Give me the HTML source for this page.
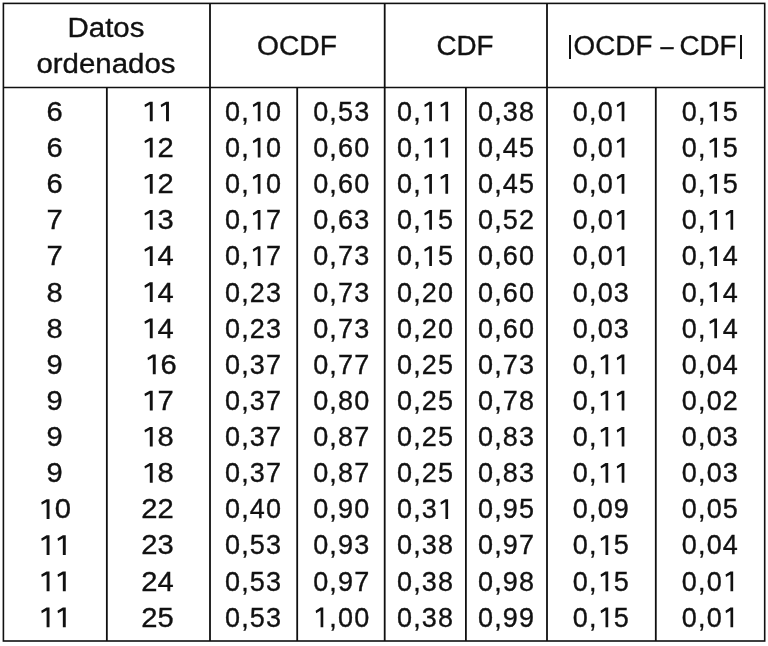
<!DOCTYPE html><html><head><meta charset="utf-8"><style>
html,body{margin:0;padding:0;background:#fff;}
body{width:768px;height:646px;position:relative;overflow:hidden;font-family:"Liberation Sans",sans-serif;color:#111;}
.o{color:transparent;-webkit-text-stroke:0 transparent;margin-left:var(--ml,0px);margin-right:var(--mr,0px);}
.t{font-kerning:none}
.t,.h{will-change:transform;-webkit-text-stroke:0.35px #111;}
.t{position:absolute;white-space:nowrap;text-align:center;font-size:27px;line-height:36px;letter-spacing:0px;height:36px;transform:scaleX(1.08);transform-origin:50% 50%;}
.h{position:absolute;white-space:nowrap;text-align:center;font-size:27px;letter-spacing:0px;transform-origin:50% 50%;}

</style></head><body>
<svg width="0" height="0" style="position:absolute"><defs><path id="g1" d="M265 -730H365V0H265V-622L100 -524L82 -615Z"/></defs></svg>
<svg width="768" height="646" viewBox="0 0 768 646" style="position:absolute;left:0;top:0" fill="none" stroke="#101010"><rect x="3.4" y="3.4" width="761.30" height="637.60" stroke-width="1.6"/><path d="M3.4 87.55H764.7" stroke-width="1.5"/><path d="M106.85 87.55V641.0M210.0 3.4V641.0M297.2 87.55V641.0M384.7 3.4V641.0M465.9 87.55V641.0M547.0 3.4V641.0M655.8 87.55V641.0" stroke-width="1.8"/></svg>
<div class="h" style="left:-43.70px;width:300px;top:10.6px;line-height:35.6px;transform:scaleX(1.09);letter-spacing:0px">Datos</div>
<div class="h" style="left:-43.80px;width:300px;top:46.5px;line-height:35.6px;transform:scaleX(1.09);letter-spacing:0px">ordenados</div>
<div class="h" style="left:147.00px;width:300px;top:28.3px;line-height:36px;transform:scaleX(1.046);letter-spacing:0px">OCDF</div>
<div class="h" style="left:315.10px;width:300px;top:28.3px;line-height:36px;transform:scaleX(1.03);letter-spacing:0px">CDF</div>
<div style="position:absolute;left:568.90px;top:35.3px;width:2.2px;height:24.40px;background:#111;will-change:transform"></div>
<div class="h" style="left:463.30px;width:300px;top:28.3px;line-height:36px;transform:scaleX(1.03);letter-spacing:0px">OCDF</div>
<div class="h" style="left:516.90px;width:300px;top:28.0px;line-height:36px;transform:scaleX(0.88);letter-spacing:0px">–</div>
<div class="h" style="left:557.60px;width:300px;top:28.3px;line-height:36px;transform:scaleX(1.03);letter-spacing:0px">CDF</div>
<div style="position:absolute;left:739.60px;top:35.3px;width:2.2px;height:24.40px;background:#111;will-change:transform"></div>
<div class="t r0 c0" style="left:3.40px;width:103.45px;top:93.80px;transform:scaleX(1.08);letter-spacing:0px;--ml:0px;--mr:0.00px">6</div>
<div class="t r0 c1" style="left:106.05px;width:103.15px;top:93.80px;transform:scaleX(1.08);letter-spacing:0px;--ml:0.65px;--mr:-0.65px"><span class="o">1</span><span class="o">1</span></div>
<div class="t r0 c2" style="left:210.27px;width:87.20px;top:93.80px;transform:scaleX(1.0);letter-spacing:1.15px;--ml:0.5px;--mr:-0.50px">0,<span class="o">1</span>0</div>
<div class="t r0 c3" style="left:297.77px;width:87.50px;top:93.80px;transform:scaleX(1.0);letter-spacing:1.15px;--ml:0.5px;--mr:-0.50px">0,53</div>
<div class="t r0 c4" style="left:385.12px;width:81.20px;top:93.80px;transform:scaleX(1.0);letter-spacing:1.15px;--ml:0.15px;--mr:-0.15px">0,<span class="o">1</span><span class="o">1</span></div>
<div class="t r0 c5" style="left:466.12px;width:81.10px;top:93.80px;transform:scaleX(1.0);letter-spacing:1.15px;--ml:0.5px;--mr:-0.50px">0,38</div>
<div class="t r0 c6" style="left:547.23px;width:108.80px;top:93.80px;transform:scaleX(1.0);letter-spacing:1.15px;--ml:0.5px;--mr:-0.50px">0,0<span class="o">1</span></div>
<div class="t r0 c7" style="left:655.98px;width:108.90px;top:93.80px;transform:scaleX(1.0);letter-spacing:1.15px;--ml:0.5px;--mr:-0.50px">0,<span class="o">1</span>5</div>
<div class="t r1 c0" style="left:3.40px;width:103.45px;top:129.94px;transform:scaleX(1.08);letter-spacing:0px;--ml:0px;--mr:0.00px">6</div>
<div class="t r1 c1" style="left:106.05px;width:103.15px;top:129.94px;transform:scaleX(1.08);letter-spacing:0px;--ml:0.65px;--mr:-0.65px"><span class="o">1</span>2</div>
<div class="t r1 c2" style="left:210.27px;width:87.20px;top:129.94px;transform:scaleX(1.0);letter-spacing:1.15px;--ml:0.5px;--mr:-0.50px">0,<span class="o">1</span>0</div>
<div class="t r1 c3" style="left:297.77px;width:87.50px;top:129.94px;transform:scaleX(1.0);letter-spacing:1.15px;--ml:0.5px;--mr:-0.50px">0,60</div>
<div class="t r1 c4" style="left:385.12px;width:81.20px;top:129.94px;transform:scaleX(1.0);letter-spacing:1.15px;--ml:0.15px;--mr:-0.15px">0,<span class="o">1</span><span class="o">1</span></div>
<div class="t r1 c5" style="left:466.12px;width:81.10px;top:129.94px;transform:scaleX(1.0);letter-spacing:1.15px;--ml:0.5px;--mr:-0.50px">0,45</div>
<div class="t r1 c6" style="left:547.23px;width:108.80px;top:129.94px;transform:scaleX(1.0);letter-spacing:1.15px;--ml:0.5px;--mr:-0.50px">0,0<span class="o">1</span></div>
<div class="t r1 c7" style="left:655.98px;width:108.90px;top:129.94px;transform:scaleX(1.0);letter-spacing:1.15px;--ml:0.5px;--mr:-0.50px">0,<span class="o">1</span>5</div>
<div class="t r2 c0" style="left:3.40px;width:103.45px;top:166.08px;transform:scaleX(1.08);letter-spacing:0px;--ml:0px;--mr:0.00px">6</div>
<div class="t r2 c1" style="left:106.05px;width:103.15px;top:166.08px;transform:scaleX(1.08);letter-spacing:0px;--ml:0.65px;--mr:-0.65px"><span class="o">1</span>2</div>
<div class="t r2 c2" style="left:210.27px;width:87.20px;top:166.08px;transform:scaleX(1.0);letter-spacing:1.15px;--ml:0.5px;--mr:-0.50px">0,<span class="o">1</span>0</div>
<div class="t r2 c3" style="left:297.77px;width:87.50px;top:166.08px;transform:scaleX(1.0);letter-spacing:1.15px;--ml:0.5px;--mr:-0.50px">0,60</div>
<div class="t r2 c4" style="left:385.12px;width:81.20px;top:166.08px;transform:scaleX(1.0);letter-spacing:1.15px;--ml:0.15px;--mr:-0.15px">0,<span class="o">1</span><span class="o">1</span></div>
<div class="t r2 c5" style="left:466.12px;width:81.10px;top:166.08px;transform:scaleX(1.0);letter-spacing:1.15px;--ml:0.5px;--mr:-0.50px">0,45</div>
<div class="t r2 c6" style="left:547.23px;width:108.80px;top:166.08px;transform:scaleX(1.0);letter-spacing:1.15px;--ml:0.5px;--mr:-0.50px">0,0<span class="o">1</span></div>
<div class="t r2 c7" style="left:655.98px;width:108.90px;top:166.08px;transform:scaleX(1.0);letter-spacing:1.15px;--ml:0.5px;--mr:-0.50px">0,<span class="o">1</span>5</div>
<div class="t r3 c0" style="left:3.40px;width:103.45px;top:202.22px;transform:scaleX(1.08);letter-spacing:0px;--ml:0px;--mr:0.00px">7</div>
<div class="t r3 c1" style="left:106.05px;width:103.15px;top:202.22px;transform:scaleX(1.08);letter-spacing:0px;--ml:0.65px;--mr:-0.65px"><span class="o">1</span>3</div>
<div class="t r3 c2" style="left:210.27px;width:87.20px;top:202.22px;transform:scaleX(1.0);letter-spacing:1.15px;--ml:0.5px;--mr:-0.50px">0,<span class="o">1</span>7</div>
<div class="t r3 c3" style="left:297.77px;width:87.50px;top:202.22px;transform:scaleX(1.0);letter-spacing:1.15px;--ml:0.5px;--mr:-0.50px">0,63</div>
<div class="t r3 c4" style="left:385.12px;width:81.20px;top:202.22px;transform:scaleX(1.0);letter-spacing:1.15px;--ml:0.15px;--mr:-0.15px">0,<span class="o">1</span>5</div>
<div class="t r3 c5" style="left:466.12px;width:81.10px;top:202.22px;transform:scaleX(1.0);letter-spacing:1.15px;--ml:0.5px;--mr:-0.50px">0,52</div>
<div class="t r3 c6" style="left:547.23px;width:108.80px;top:202.22px;transform:scaleX(1.0);letter-spacing:1.15px;--ml:0.5px;--mr:-0.50px">0,0<span class="o">1</span></div>
<div class="t r3 c7" style="left:655.98px;width:108.90px;top:202.22px;transform:scaleX(1.0);letter-spacing:1.15px;--ml:0.5px;--mr:-0.50px">0,<span class="o">1</span><span class="o">1</span></div>
<div class="t r4 c0" style="left:3.40px;width:103.45px;top:238.36px;transform:scaleX(1.08);letter-spacing:0px;--ml:0px;--mr:0.00px">7</div>
<div class="t r4 c1" style="left:106.05px;width:103.15px;top:238.36px;transform:scaleX(1.08);letter-spacing:0px;--ml:0.65px;--mr:-0.65px"><span class="o">1</span>4</div>
<div class="t r4 c2" style="left:210.27px;width:87.20px;top:238.36px;transform:scaleX(1.0);letter-spacing:1.15px;--ml:0.5px;--mr:-0.50px">0,<span class="o">1</span>7</div>
<div class="t r4 c3" style="left:297.77px;width:87.50px;top:238.36px;transform:scaleX(1.0);letter-spacing:1.15px;--ml:0.5px;--mr:-0.50px">0,73</div>
<div class="t r4 c4" style="left:385.12px;width:81.20px;top:238.36px;transform:scaleX(1.0);letter-spacing:1.15px;--ml:0.15px;--mr:-0.15px">0,<span class="o">1</span>5</div>
<div class="t r4 c5" style="left:466.12px;width:81.10px;top:238.36px;transform:scaleX(1.0);letter-spacing:1.15px;--ml:0.5px;--mr:-0.50px">0,60</div>
<div class="t r4 c6" style="left:547.23px;width:108.80px;top:238.36px;transform:scaleX(1.0);letter-spacing:1.15px;--ml:0.5px;--mr:-0.50px">0,0<span class="o">1</span></div>
<div class="t r4 c7" style="left:655.98px;width:108.90px;top:238.36px;transform:scaleX(1.0);letter-spacing:1.15px;--ml:0.5px;--mr:-0.50px">0,<span class="o">1</span>4</div>
<div class="t r5 c0" style="left:3.40px;width:103.45px;top:274.50px;transform:scaleX(1.08);letter-spacing:0px;--ml:0px;--mr:0.00px">8</div>
<div class="t r5 c1" style="left:106.05px;width:103.15px;top:274.50px;transform:scaleX(1.08);letter-spacing:0px;--ml:0.65px;--mr:-0.65px"><span class="o">1</span>4</div>
<div class="t r5 c2" style="left:210.27px;width:87.20px;top:274.50px;transform:scaleX(1.0);letter-spacing:1.15px;--ml:0.5px;--mr:-0.50px">0,23</div>
<div class="t r5 c3" style="left:297.77px;width:87.50px;top:274.50px;transform:scaleX(1.0);letter-spacing:1.15px;--ml:0.5px;--mr:-0.50px">0,73</div>
<div class="t r5 c4" style="left:385.12px;width:81.20px;top:274.50px;transform:scaleX(1.0);letter-spacing:1.15px;--ml:0.15px;--mr:-0.15px">0,20</div>
<div class="t r5 c5" style="left:466.12px;width:81.10px;top:274.50px;transform:scaleX(1.0);letter-spacing:1.15px;--ml:0.5px;--mr:-0.50px">0,60</div>
<div class="t r5 c6" style="left:547.23px;width:108.80px;top:274.50px;transform:scaleX(1.0);letter-spacing:1.15px;--ml:0.5px;--mr:-0.50px">0,03</div>
<div class="t r5 c7" style="left:655.98px;width:108.90px;top:274.50px;transform:scaleX(1.0);letter-spacing:1.15px;--ml:0.5px;--mr:-0.50px">0,<span class="o">1</span>4</div>
<div class="t r6 c0" style="left:3.40px;width:103.45px;top:310.64px;transform:scaleX(1.08);letter-spacing:0px;--ml:0px;--mr:0.00px">8</div>
<div class="t r6 c1" style="left:106.05px;width:103.15px;top:310.64px;transform:scaleX(1.08);letter-spacing:0px;--ml:0.65px;--mr:-0.65px"><span class="o">1</span>4</div>
<div class="t r6 c2" style="left:210.27px;width:87.20px;top:310.64px;transform:scaleX(1.0);letter-spacing:1.15px;--ml:0.5px;--mr:-0.50px">0,23</div>
<div class="t r6 c3" style="left:297.77px;width:87.50px;top:310.64px;transform:scaleX(1.0);letter-spacing:1.15px;--ml:0.5px;--mr:-0.50px">0,73</div>
<div class="t r6 c4" style="left:385.12px;width:81.20px;top:310.64px;transform:scaleX(1.0);letter-spacing:1.15px;--ml:0.15px;--mr:-0.15px">0,20</div>
<div class="t r6 c5" style="left:466.12px;width:81.10px;top:310.64px;transform:scaleX(1.0);letter-spacing:1.15px;--ml:0.5px;--mr:-0.50px">0,60</div>
<div class="t r6 c6" style="left:547.23px;width:108.80px;top:310.64px;transform:scaleX(1.0);letter-spacing:1.15px;--ml:0.5px;--mr:-0.50px">0,03</div>
<div class="t r6 c7" style="left:655.98px;width:108.90px;top:310.64px;transform:scaleX(1.0);letter-spacing:1.15px;--ml:0.5px;--mr:-0.50px">0,<span class="o">1</span>4</div>
<div class="t r7 c0" style="left:3.40px;width:103.45px;top:346.78px;transform:scaleX(1.08);letter-spacing:0px;--ml:0px;--mr:0.00px">9</div>
<div class="t r7 c1" style="left:109.05px;width:103.15px;top:346.78px;transform:scaleX(1.08);letter-spacing:0px;--ml:0.65px;--mr:-0.65px"><span class="o">1</span>6</div>
<div class="t r7 c2" style="left:210.27px;width:87.20px;top:346.78px;transform:scaleX(1.0);letter-spacing:1.15px;--ml:0.5px;--mr:-0.50px">0,37</div>
<div class="t r7 c3" style="left:297.77px;width:87.50px;top:346.78px;transform:scaleX(1.0);letter-spacing:1.15px;--ml:0.5px;--mr:-0.50px">0,77</div>
<div class="t r7 c4" style="left:385.12px;width:81.20px;top:346.78px;transform:scaleX(1.0);letter-spacing:1.15px;--ml:0.15px;--mr:-0.15px">0,25</div>
<div class="t r7 c5" style="left:466.12px;width:81.10px;top:346.78px;transform:scaleX(1.0);letter-spacing:1.15px;--ml:0.5px;--mr:-0.50px">0,73</div>
<div class="t r7 c6" style="left:547.23px;width:108.80px;top:346.78px;transform:scaleX(1.0);letter-spacing:1.15px;--ml:0.5px;--mr:-0.50px">0,<span class="o">1</span><span class="o">1</span></div>
<div class="t r7 c7" style="left:655.98px;width:108.90px;top:346.78px;transform:scaleX(1.0);letter-spacing:1.15px;--ml:0.5px;--mr:-0.50px">0,04</div>
<div class="t r8 c0" style="left:3.40px;width:103.45px;top:382.92px;transform:scaleX(1.08);letter-spacing:0px;--ml:0px;--mr:0.00px">9</div>
<div class="t r8 c1" style="left:106.05px;width:103.15px;top:382.92px;transform:scaleX(1.08);letter-spacing:0px;--ml:0.65px;--mr:-0.65px"><span class="o">1</span>7</div>
<div class="t r8 c2" style="left:210.27px;width:87.20px;top:382.92px;transform:scaleX(1.0);letter-spacing:1.15px;--ml:0.5px;--mr:-0.50px">0,37</div>
<div class="t r8 c3" style="left:297.77px;width:87.50px;top:382.92px;transform:scaleX(1.0);letter-spacing:1.15px;--ml:0.5px;--mr:-0.50px">0,80</div>
<div class="t r8 c4" style="left:385.12px;width:81.20px;top:382.92px;transform:scaleX(1.0);letter-spacing:1.15px;--ml:0.15px;--mr:-0.15px">0,25</div>
<div class="t r8 c5" style="left:466.12px;width:81.10px;top:382.92px;transform:scaleX(1.0);letter-spacing:1.15px;--ml:0.5px;--mr:-0.50px">0,78</div>
<div class="t r8 c6" style="left:547.23px;width:108.80px;top:382.92px;transform:scaleX(1.0);letter-spacing:1.15px;--ml:0.5px;--mr:-0.50px">0,<span class="o">1</span><span class="o">1</span></div>
<div class="t r8 c7" style="left:655.98px;width:108.90px;top:382.92px;transform:scaleX(1.0);letter-spacing:1.15px;--ml:0.5px;--mr:-0.50px">0,02</div>
<div class="t r9 c0" style="left:3.40px;width:103.45px;top:419.06px;transform:scaleX(1.08);letter-spacing:0px;--ml:0px;--mr:0.00px">9</div>
<div class="t r9 c1" style="left:106.05px;width:103.15px;top:419.06px;transform:scaleX(1.08);letter-spacing:0px;--ml:0.65px;--mr:-0.65px"><span class="o">1</span>8</div>
<div class="t r9 c2" style="left:210.27px;width:87.20px;top:419.06px;transform:scaleX(1.0);letter-spacing:1.15px;--ml:0.5px;--mr:-0.50px">0,37</div>
<div class="t r9 c3" style="left:297.77px;width:87.50px;top:419.06px;transform:scaleX(1.0);letter-spacing:1.15px;--ml:0.5px;--mr:-0.50px">0,87</div>
<div class="t r9 c4" style="left:385.12px;width:81.20px;top:419.06px;transform:scaleX(1.0);letter-spacing:1.15px;--ml:0.15px;--mr:-0.15px">0,25</div>
<div class="t r9 c5" style="left:466.12px;width:81.10px;top:419.06px;transform:scaleX(1.0);letter-spacing:1.15px;--ml:0.5px;--mr:-0.50px">0,83</div>
<div class="t r9 c6" style="left:547.23px;width:108.80px;top:419.06px;transform:scaleX(1.0);letter-spacing:1.15px;--ml:0.5px;--mr:-0.50px">0,<span class="o">1</span><span class="o">1</span></div>
<div class="t r9 c7" style="left:655.98px;width:108.90px;top:419.06px;transform:scaleX(1.0);letter-spacing:1.15px;--ml:0.5px;--mr:-0.50px">0,03</div>
<div class="t r10 c0" style="left:3.40px;width:103.45px;top:455.20px;transform:scaleX(1.08);letter-spacing:0px;--ml:0px;--mr:0.00px">9</div>
<div class="t r10 c1" style="left:106.05px;width:103.15px;top:455.20px;transform:scaleX(1.08);letter-spacing:0px;--ml:0.65px;--mr:-0.65px"><span class="o">1</span>8</div>
<div class="t r10 c2" style="left:210.27px;width:87.20px;top:455.20px;transform:scaleX(1.0);letter-spacing:1.15px;--ml:0.5px;--mr:-0.50px">0,37</div>
<div class="t r10 c3" style="left:297.77px;width:87.50px;top:455.20px;transform:scaleX(1.0);letter-spacing:1.15px;--ml:0.5px;--mr:-0.50px">0,87</div>
<div class="t r10 c4" style="left:385.12px;width:81.20px;top:455.20px;transform:scaleX(1.0);letter-spacing:1.15px;--ml:0.15px;--mr:-0.15px">0,25</div>
<div class="t r10 c5" style="left:466.12px;width:81.10px;top:455.20px;transform:scaleX(1.0);letter-spacing:1.15px;--ml:0.5px;--mr:-0.50px">0,83</div>
<div class="t r10 c6" style="left:547.23px;width:108.80px;top:455.20px;transform:scaleX(1.0);letter-spacing:1.15px;--ml:0.5px;--mr:-0.50px">0,<span class="o">1</span><span class="o">1</span></div>
<div class="t r10 c7" style="left:655.98px;width:108.90px;top:455.20px;transform:scaleX(1.0);letter-spacing:1.15px;--ml:0.5px;--mr:-0.50px">0,03</div>
<div class="t r11 c0" style="left:3.40px;width:103.45px;top:491.34px;transform:scaleX(1.08);letter-spacing:0px;--ml:0px;--mr:0.00px"><span class="o">1</span>0</div>
<div class="t r11 c1" style="left:106.05px;width:103.15px;top:491.34px;transform:scaleX(1.08);letter-spacing:0px;--ml:0.65px;--mr:-0.65px">22</div>
<div class="t r11 c2" style="left:210.27px;width:87.20px;top:491.34px;transform:scaleX(1.0);letter-spacing:1.15px;--ml:0.5px;--mr:-0.50px">0,40</div>
<div class="t r11 c3" style="left:297.77px;width:87.50px;top:491.34px;transform:scaleX(1.0);letter-spacing:1.15px;--ml:0.5px;--mr:-0.50px">0,90</div>
<div class="t r11 c4" style="left:385.12px;width:81.20px;top:491.34px;transform:scaleX(1.0);letter-spacing:1.15px;--ml:0.15px;--mr:-0.15px">0,3<span class="o">1</span></div>
<div class="t r11 c5" style="left:466.12px;width:81.10px;top:491.34px;transform:scaleX(1.0);letter-spacing:1.15px;--ml:0.5px;--mr:-0.50px">0,95</div>
<div class="t r11 c6" style="left:547.23px;width:108.80px;top:491.34px;transform:scaleX(1.0);letter-spacing:1.15px;--ml:0.5px;--mr:-0.50px">0,09</div>
<div class="t r11 c7" style="left:655.98px;width:108.90px;top:491.34px;transform:scaleX(1.0);letter-spacing:1.15px;--ml:0.5px;--mr:-0.50px">0,05</div>
<div class="t r12 c0" style="left:3.40px;width:103.45px;top:527.48px;transform:scaleX(1.08);letter-spacing:0px;--ml:0px;--mr:0.00px"><span class="o">1</span><span class="o">1</span></div>
<div class="t r12 c1" style="left:106.05px;width:103.15px;top:527.48px;transform:scaleX(1.08);letter-spacing:0px;--ml:0.65px;--mr:-0.65px">23</div>
<div class="t r12 c2" style="left:210.27px;width:87.20px;top:527.48px;transform:scaleX(1.0);letter-spacing:1.15px;--ml:0.5px;--mr:-0.50px">0,53</div>
<div class="t r12 c3" style="left:297.77px;width:87.50px;top:527.48px;transform:scaleX(1.0);letter-spacing:1.15px;--ml:0.5px;--mr:-0.50px">0,93</div>
<div class="t r12 c4" style="left:385.12px;width:81.20px;top:527.48px;transform:scaleX(1.0);letter-spacing:1.15px;--ml:0.15px;--mr:-0.15px">0,38</div>
<div class="t r12 c5" style="left:466.12px;width:81.10px;top:527.48px;transform:scaleX(1.0);letter-spacing:1.15px;--ml:0.5px;--mr:-0.50px">0,97</div>
<div class="t r12 c6" style="left:547.23px;width:108.80px;top:527.48px;transform:scaleX(1.0);letter-spacing:1.15px;--ml:0.5px;--mr:-0.50px">0,<span class="o">1</span>5</div>
<div class="t r12 c7" style="left:655.98px;width:108.90px;top:527.48px;transform:scaleX(1.0);letter-spacing:1.15px;--ml:0.5px;--mr:-0.50px">0,04</div>
<div class="t r13 c0" style="left:3.40px;width:103.45px;top:563.62px;transform:scaleX(1.08);letter-spacing:0px;--ml:0px;--mr:0.00px"><span class="o">1</span><span class="o">1</span></div>
<div class="t r13 c1" style="left:106.05px;width:103.15px;top:563.62px;transform:scaleX(1.08);letter-spacing:0px;--ml:0.65px;--mr:-0.65px">24</div>
<div class="t r13 c2" style="left:210.27px;width:87.20px;top:563.62px;transform:scaleX(1.0);letter-spacing:1.15px;--ml:0.5px;--mr:-0.50px">0,53</div>
<div class="t r13 c3" style="left:297.77px;width:87.50px;top:563.62px;transform:scaleX(1.0);letter-spacing:1.15px;--ml:0.5px;--mr:-0.50px">0,97</div>
<div class="t r13 c4" style="left:385.12px;width:81.20px;top:563.62px;transform:scaleX(1.0);letter-spacing:1.15px;--ml:0.15px;--mr:-0.15px">0,38</div>
<div class="t r13 c5" style="left:466.12px;width:81.10px;top:563.62px;transform:scaleX(1.0);letter-spacing:1.15px;--ml:0.5px;--mr:-0.50px">0,98</div>
<div class="t r13 c6" style="left:547.23px;width:108.80px;top:563.62px;transform:scaleX(1.0);letter-spacing:1.15px;--ml:0.5px;--mr:-0.50px">0,<span class="o">1</span>5</div>
<div class="t r13 c7" style="left:655.98px;width:108.90px;top:563.62px;transform:scaleX(1.0);letter-spacing:1.15px;--ml:0.5px;--mr:-0.50px">0,0<span class="o">1</span></div>
<div class="t r14 c0" style="left:3.40px;width:103.45px;top:599.76px;transform:scaleX(1.08);letter-spacing:0px;--ml:0px;--mr:0.00px"><span class="o">1</span><span class="o">1</span></div>
<div class="t r14 c1" style="left:106.05px;width:103.15px;top:599.76px;transform:scaleX(1.08);letter-spacing:0px;--ml:0.65px;--mr:-0.65px">25</div>
<div class="t r14 c2" style="left:210.27px;width:87.20px;top:599.76px;transform:scaleX(1.0);letter-spacing:1.15px;--ml:0.5px;--mr:-0.50px">0,53</div>
<div class="t r14 c3" style="left:297.77px;width:87.50px;top:599.76px;transform:scaleX(1.0);letter-spacing:1.15px;--ml:0.5px;--mr:-0.50px"><span class="o">1</span>,00</div>
<div class="t r14 c4" style="left:385.12px;width:81.20px;top:599.76px;transform:scaleX(1.0);letter-spacing:1.15px;--ml:0.15px;--mr:-0.15px">0,38</div>
<div class="t r14 c5" style="left:466.12px;width:81.10px;top:599.76px;transform:scaleX(1.0);letter-spacing:1.15px;--ml:0.5px;--mr:-0.50px">0,99</div>
<div class="t r14 c6" style="left:547.23px;width:108.80px;top:599.76px;transform:scaleX(1.0);letter-spacing:1.15px;--ml:0.5px;--mr:-0.50px">0,<span class="o">1</span>5</div>
<div class="t r14 c7" style="left:655.98px;width:108.90px;top:599.76px;transform:scaleX(1.0);letter-spacing:1.15px;--ml:0.5px;--mr:-0.50px">0,0<span class="o">1</span></div>
<svg width="768" height="646" viewBox="0 0 768 646" style="position:absolute;left:0;top:0;will-change:transform" fill="#111"><use href="#g1" transform="translate(142.07 121.35) scale(0.02916 0.02700)"/><use href="#g1" transform="translate(158.30 121.35) scale(0.02916 0.02700)"/><use href="#g1" transform="translate(250.59 121.35) scale(0.02700 0.02700)"/><use href="#g1" transform="translate(422.08 121.35) scale(0.02700 0.02700)"/><use href="#g1" transform="translate(438.25 121.35) scale(0.02700 0.02700)"/><use href="#g1" transform="translate(614.52 121.35) scale(0.02700 0.02700)"/><use href="#g1" transform="translate(707.16 121.35) scale(0.02700 0.02700)"/><use href="#g1" transform="translate(142.07 157.49) scale(0.02916 0.02700)"/><use href="#g1" transform="translate(250.59 157.49) scale(0.02700 0.02700)"/><use href="#g1" transform="translate(422.08 157.49) scale(0.02700 0.02700)"/><use href="#g1" transform="translate(438.25 157.49) scale(0.02700 0.02700)"/><use href="#g1" transform="translate(614.52 157.49) scale(0.02700 0.02700)"/><use href="#g1" transform="translate(707.16 157.49) scale(0.02700 0.02700)"/><use href="#g1" transform="translate(142.07 193.63) scale(0.02916 0.02700)"/><use href="#g1" transform="translate(250.59 193.63) scale(0.02700 0.02700)"/><use href="#g1" transform="translate(422.08 193.63) scale(0.02700 0.02700)"/><use href="#g1" transform="translate(438.25 193.63) scale(0.02700 0.02700)"/><use href="#g1" transform="translate(614.52 193.63) scale(0.02700 0.02700)"/><use href="#g1" transform="translate(707.16 193.63) scale(0.02700 0.02700)"/><use href="#g1" transform="translate(142.07 229.77) scale(0.02916 0.02700)"/><use href="#g1" transform="translate(250.59 229.77) scale(0.02700 0.02700)"/><use href="#g1" transform="translate(422.08 229.77) scale(0.02700 0.02700)"/><use href="#g1" transform="translate(614.52 229.77) scale(0.02700 0.02700)"/><use href="#g1" transform="translate(707.16 229.77) scale(0.02700 0.02700)"/><use href="#g1" transform="translate(723.33 229.77) scale(0.02700 0.02700)"/><use href="#g1" transform="translate(142.07 265.91) scale(0.02916 0.02700)"/><use href="#g1" transform="translate(250.59 265.91) scale(0.02700 0.02700)"/><use href="#g1" transform="translate(422.08 265.91) scale(0.02700 0.02700)"/><use href="#g1" transform="translate(614.52 265.91) scale(0.02700 0.02700)"/><use href="#g1" transform="translate(707.16 265.91) scale(0.02700 0.02700)"/><use href="#g1" transform="translate(142.07 302.05) scale(0.02916 0.02700)"/><use href="#g1" transform="translate(707.16 302.05) scale(0.02700 0.02700)"/><use href="#g1" transform="translate(142.07 338.19) scale(0.02916 0.02700)"/><use href="#g1" transform="translate(707.16 338.19) scale(0.02700 0.02700)"/><use href="#g1" transform="translate(145.07 374.33) scale(0.02916 0.02700)"/><use href="#g1" transform="translate(598.36 374.33) scale(0.02700 0.02700)"/><use href="#g1" transform="translate(614.53 374.33) scale(0.02700 0.02700)"/><use href="#g1" transform="translate(142.07 410.47) scale(0.02916 0.02700)"/><use href="#g1" transform="translate(598.36 410.47) scale(0.02700 0.02700)"/><use href="#g1" transform="translate(614.53 410.47) scale(0.02700 0.02700)"/><use href="#g1" transform="translate(142.07 446.61) scale(0.02916 0.02700)"/><use href="#g1" transform="translate(598.36 446.61) scale(0.02700 0.02700)"/><use href="#g1" transform="translate(614.53 446.61) scale(0.02700 0.02700)"/><use href="#g1" transform="translate(142.07 482.75) scale(0.02916 0.02700)"/><use href="#g1" transform="translate(598.36 482.75) scale(0.02700 0.02700)"/><use href="#g1" transform="translate(614.53 482.75) scale(0.02700 0.02700)"/><use href="#g1" transform="translate(38.88 518.89) scale(0.02916 0.02700)"/><use href="#g1" transform="translate(438.25 518.89) scale(0.02700 0.02700)"/><use href="#g1" transform="translate(38.88 555.03) scale(0.02916 0.02700)"/><use href="#g1" transform="translate(55.11 555.03) scale(0.02916 0.02700)"/><use href="#g1" transform="translate(598.36 555.03) scale(0.02700 0.02700)"/><use href="#g1" transform="translate(38.88 591.17) scale(0.02916 0.02700)"/><use href="#g1" transform="translate(55.11 591.17) scale(0.02916 0.02700)"/><use href="#g1" transform="translate(598.36 591.17) scale(0.02700 0.02700)"/><use href="#g1" transform="translate(723.31 591.17) scale(0.02700 0.02700)"/><use href="#g1" transform="translate(38.88 627.31) scale(0.02916 0.02700)"/><use href="#g1" transform="translate(55.11 627.31) scale(0.02916 0.02700)"/><use href="#g1" transform="translate(313.44 627.31) scale(0.02700 0.02700)"/><use href="#g1" transform="translate(598.36 627.31) scale(0.02700 0.02700)"/><use href="#g1" transform="translate(723.31 627.31) scale(0.02700 0.02700)"/></svg>
</body></html>
